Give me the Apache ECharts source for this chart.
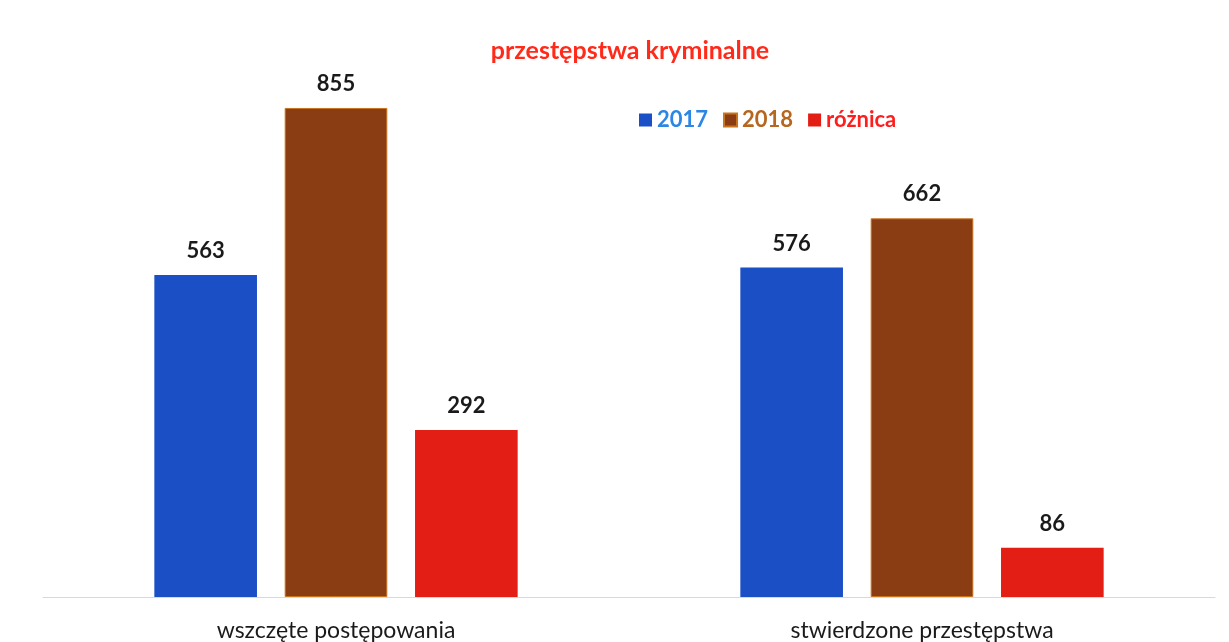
<!DOCTYPE html>
<html>
<head>
<meta charset="utf-8">
<script src="https://cdn.jsdelivr.net/npm/echarts@6/dist/echarts.min.js"></script>
<style>
  html, body { margin: 0; padding: 0; background: #fff; }
  #chart { width: 1229px; height: 642px; }
</style>
</head>
<body>
<div id="chart"></div>
<script>
const categories = ['wszczęte postępowania', 'stwierdzone przestępstwa'];
const seriesNames = ['2017', '2018', 'różnica'];
const values2017 = [563, 576];
const values2018 = [855, 662];
const valuesDiff = [292, 86];

const barColors = ['#1b4fc6', '#8a3d12', '#e31e14'];
const legendTextColors = ['#2b86e6', '#b5661f', '#ff1d1d'];
const font = 'Lato, "Open Sans", sans-serif';

const chart = echarts.init(document.getElementById('chart'));

const makeSeries = (name, data, i) => ({
  name,
  type: 'bar',
  data,
  barGap: '27%',
  barCategoryGap: '38%',
  itemStyle: {
    color: barColors[i],
    borderColor: i === 1 ? '#c8741e' : barColors[i],
    borderWidth: i === 1 ? 1 : 0
  },
  label: {
    show: true,
    position: 'top',
    distance: 13,
    color: '#1a1a1a',
    fontFamily: font,
    fontWeight: 'bold',
    fontSize: 22
  }
});

chart.setOption({
  animation: false,
  backgroundColor: '#fff',
  title: {
    text: 'przestępstwa kryminalne',
    left: 625,
    top: 33,
    textAlign: 'center',
    textStyle: {
      color: '#ff2a1a',
      fontFamily: font,
      fontWeight: 'bold',
      fontSize: 25
    }
  },
  legend: {
    left: 634,
    top: 104,
    itemWidth: 13,
    itemHeight: 13,
    itemGap: 15,
    icon: 'rect',
    data: seriesNames.map((name, i) => ({
      name,
      textStyle: {
        color: legendTextColors[i],
        fontFamily: font,
        fontWeight: 'bold',
        fontSize: 22
      }
    }))
  },
  grid: {
    left: 43,
    right: 14,
    top: 25,
    bottom: 44
  },
  xAxis: {
    type: 'category',
    data: categories,
    axisLine: { lineStyle: { color: '#d9d9d9', width: 1 } },
    axisTick: { show: false },
    axisLabel: {
      color: '#1a1a1a',
      fontFamily: font,
      fontSize: 23,
      margin: 22
    }
  },
  yAxis: {
    type: 'value',
    min: 0,
    max: 1000,
    show: false,
    splitLine: { show: false }
  },
  series: [
    makeSeries(seriesNames[0], values2017, 0),
    makeSeries(seriesNames[1], values2018, 1),
    makeSeries(seriesNames[2], valuesDiff, 2)
  ]
});
</script>
</body>
</html>
